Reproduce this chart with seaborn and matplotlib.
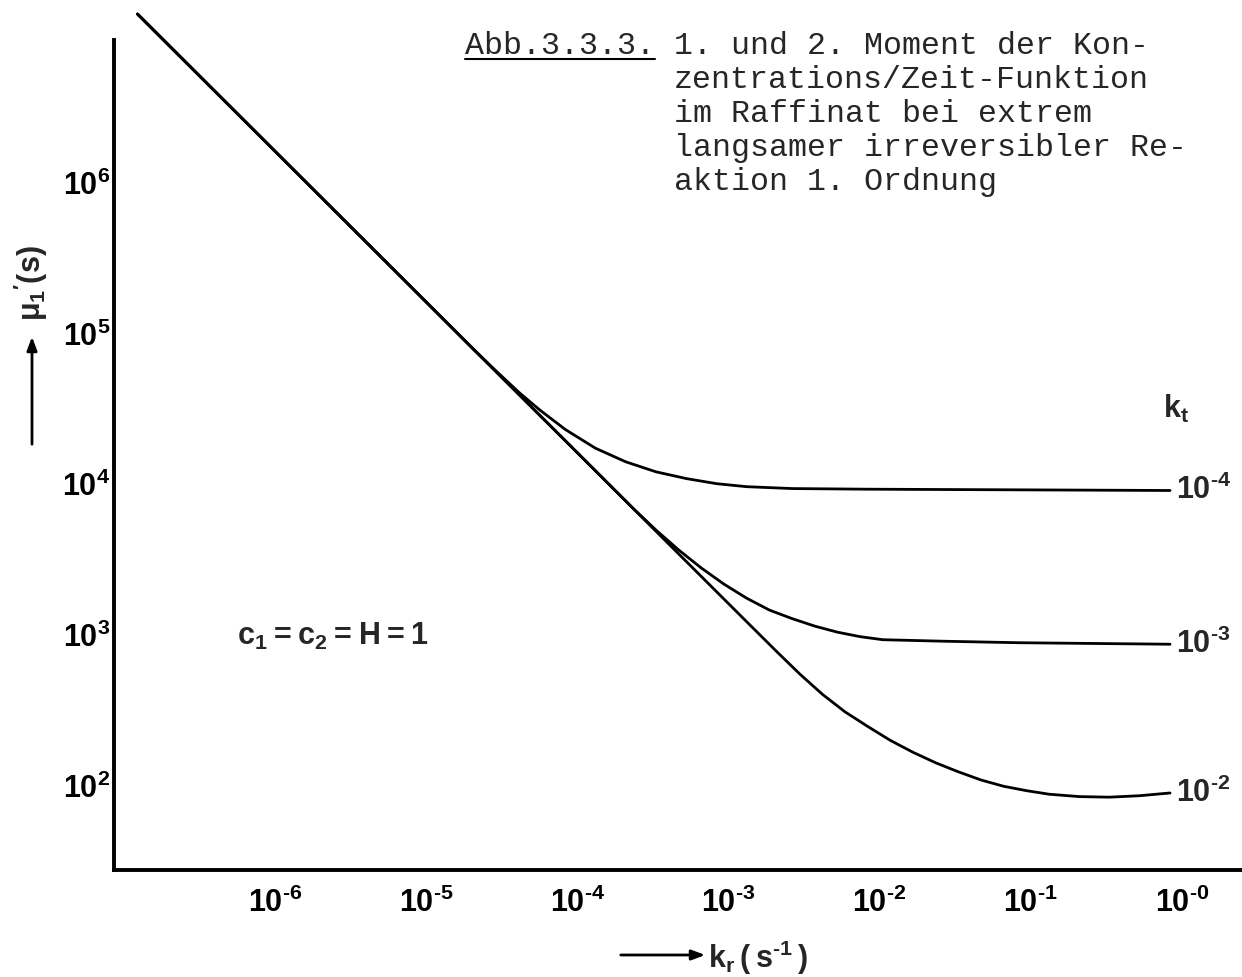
import numpy as np
import pandas as pd
import matplotlib
matplotlib.use("Agg")
import matplotlib.pyplot as plt
import matplotlib.transforms as mtransforms
from matplotlib import font_manager
import seaborn as sns

# values: k_r in 1/s, first moment mu1' in s
kr_kt4 = [1.48e-7, 1e-5, 2.51e-5, 3.55e-5, 5.01e-5, 6.76e-5, 1e-4, 1.58e-4, 2.51e-4, 3.98e-4,
          6.31e-4, 1e-3, 1.58e-3, 3.16e-3, 1e-2, 1e-1, 1.0]
mu_kt4 = [1.45e7, 2.14e5, 8.51e4, 6.10e4, 4.42e4, 3.43e4, 2.54e4, 1.91e4, 1.55e4, 1.33e4,
          1.20e4, 1.11e4, 1.06e4, 1.03e4, 1.02e4, 1.01e4, 1.0e4]

kr_kt3 = [1.48e-7, 1e-5, 1.26e-4, 2.0e-4, 2.82e-4, 3.98e-4, 5.62e-4, 7.94e-4, 1.12e-3, 1.58e-3,
          2.24e-3, 3.16e-3, 4.47e-3, 6.31e-3, 8.91e-3, 1.26e-2, 3.16e-2, 0.1, 1.0]
mu_kt3 = [1.45e7, 2.14e5, 1.70e4, 1.07e4, 7586, 5464, 4032, 3059, 2393, 1932,
          1609, 1413, 1259, 1148, 1072, 1023, 1000, 977, 955]

kr_kt2 = [1.48e-7, 1e-5, 1.58e-3, 2.51e-3, 3.55e-3, 5.01e-3, 7.08e-3, 1e-2, 1.41e-2, 2.0e-2,
          2.82e-2, 3.98e-2, 5.62e-2, 7.94e-2, 0.112, 0.158, 0.251, 0.398, 0.631, 1.0]
mu_kt2 = [1.45e7, 2.14e5, 1.35e3, 851, 607, 445, 340, 272, 220, 183,
          156, 136, 120, 109, 102, 96.6, 93.1, 92.3, 94.4, 98.4]

HY = "\u2010"  # short hyphen as in the typed exponents
kt_names = ["1e-4", "1e-3", "1e-2"]
kt_labels = ["$\\mathbf{10^{%s4}}$" % HY, "$\\mathbf{10^{%s3}}$" % HY, "$\\mathbf{10^{%s2}}$" % HY]

x_ticks = [1e-6, 1e-5, 1e-4, 1e-3, 1e-2, 1e-1, 1e0]
x_ticklabels = ["$\\mathbf{10^{%s%s}}$" % (HY, e) for e in ["6", "5", "4", "3", "2", "1", "0"]]
y_ticks = [1e2, 1e3, 1e4, 1e5, 1e6]
y_ticklabels = ["$\\mathbf{10^{%s}}$" % e for e in ["2", "3", "4", "5", "6"]]

caption_head = "Abb.3.3.3."
caption_lines = ["1. und 2. Moment der Kon-",
                 "zentrations/Zeit-Funktion",
                 "im Raffinat bei extrem",
                 "langsamer irreversibler Re-",
                 "aktion 1. Ordnung"]

# long table for seaborn
frames = []
for name, kr, mu in zip(kt_names, [kr_kt4, kr_kt3, kr_kt2], [mu_kt4, mu_kt3, mu_kt2]):
    frames.append(pd.DataFrame({"kr": kr, "mu": mu, "kt": name}))
df = pd.concat(frames, ignore_index=True)

sns.set_style("white")
names = {f.name for f in font_manager.fontManager.ttflist}
bold_font = "Liberation Sans Narrow" if "Liberation Sans Narrow" in names else "Liberation Sans"
plt.rcParams["font.family"] = [bold_font, "DejaVu Sans"]
plt.rcParams["mathtext.fontset"] = "custom"
plt.rcParams["mathtext.bf"] = bold_font + ":bold"
plt.rcParams["mathtext.rm"] = bold_font + ":bold"
plt.rcParams["mathtext.it"] = "DejaVu Sans:italic:bold"

W, H = 1242, 977
fig = plt.figure(figsize=(W / 100, H / 100), dpi=100)
# axes box in pixels: left 114, bottom 870, top 40, right edge of image
ax = fig.add_axes([114 / W, (H - 870) / H, (W - 114) / W, (870 - 40) / H])

sns.lineplot(data=df, x="kr", y="mu", units="kt", estimator=None, sort=False,
             color="black", lw=2.0, ax=ax, clip_on=False, legend=False)

ax.set_xscale("log")
ax.set_yscale("log")
ax.set_xlim(10 ** -6.985, 10 ** 0.476)
ax.set_ylim(10 ** 1.482, 10 ** 6.989)
ax.set_xticks(x_ticks)
ax.set_xticklabels(x_ticklabels)
ax.set_yticks(y_ticks)
ax.set_yticklabels(y_ticklabels)
ax.minorticks_off()
ax.tick_params(axis="both", which="major", direction="inout", length=13, width=2,
               labelsize=22, color="black", labelcolor="black")
ax.tick_params(axis="x", pad=6)
ax.tick_params(axis="y", pad=-4)
ax.set_xlabel("")
ax.set_ylabel("")
for side in ["top", "right"]:
    ax.spines[side].set_visible(False)
for side in ["left", "bottom"]:
    ax.spines[side].set_linewidth(2.8)
    ax.spines[side].set_color("black")

# x labels: the "10" sits on the tick, exponent to the right
shift = mtransforms.ScaledTranslation(0.12, 0, fig.dpi_scale_trans)
for lab in ax.get_xticklabels():
    lab.set_transform(lab.get_transform() + shift)
yshift = mtransforms.ScaledTranslation(0, -0.06, fig.dpi_scale_trans)
for lab in ax.get_yticklabels():
    lab.set_verticalalignment("baseline")
    lab.set_transform(lab.get_transform() + yshift)

# curve labels at the right end
for lab, kr, mu in zip(kt_labels, [kr_kt4, kr_kt3, kr_kt2], [mu_kt4, mu_kt3, mu_kt2]):
    ax.annotate(lab, xy=(kr[-1], mu[-1]), xytext=(4, 0), textcoords="offset points",
                ha="left", va="center", fontsize=22, annotation_clip=False)


def px(x, y):
    return x / W, 1 - y / H


fig.text(*px(1163, 418), r"$\mathbf{k_t}$", fontsize=22, ha="left", va="baseline")
ax.text(10 ** -6.17, 1.07e3, r"$\mathbf{c_1{=}c_2{=}H{=}1}$", fontsize=22,
        ha="left", va="center")

# axis titles with arrows
fig.text(*px(708, 968), "$\\mathbf{k_r\\,(\\,s^{%s1}\\,)}$" % HY, fontsize=22, ha="left", va="baseline")
fig.add_artist(matplotlib.patches.FancyArrowPatch(px(618, 955), px(708, 955), transform=fig.transFigure,
                                                  arrowstyle="-|>,head_length=8,head_width=3",
                                                  lw=2, color="black"))
fig.text(*px(31, 283), r"$\mathbf{\mu_1{}^{\prime}(s)}$", fontsize=22, rotation=90,
         ha="center", va="center")
fig.add_artist(matplotlib.patches.FancyArrowPatch(px(32, 447), px(32, 334), transform=fig.transFigure,
                                                  arrowstyle="-|>,head_length=8,head_width=3",
                                                  lw=2, color="black"))

# typewriter caption
mono = "Liberation Mono"
x0, base0, dy, cw = 465, 54, 34, 19.0
head = fig.text(*px(x0, base0), caption_head, family=mono, fontsize=22.8, va="baseline", ha="left")
for i, line in enumerate(caption_lines):
    fig.text(*px(x0 + 11 * cw, base0 + i * dy), line, family=mono, fontsize=22.8,
             va="baseline", ha="left")
fig.canvas.draw()
bb = head.get_window_extent()
uy = 1 - (base0 + 5) / H
fig.add_artist(matplotlib.lines.Line2D([bb.x0 / W, bb.x1 / W], [uy, uy],
                                       transform=fig.transFigure, color="black", lw=1.5))

fig.savefig("out.png", dpi=100, facecolor="white")
